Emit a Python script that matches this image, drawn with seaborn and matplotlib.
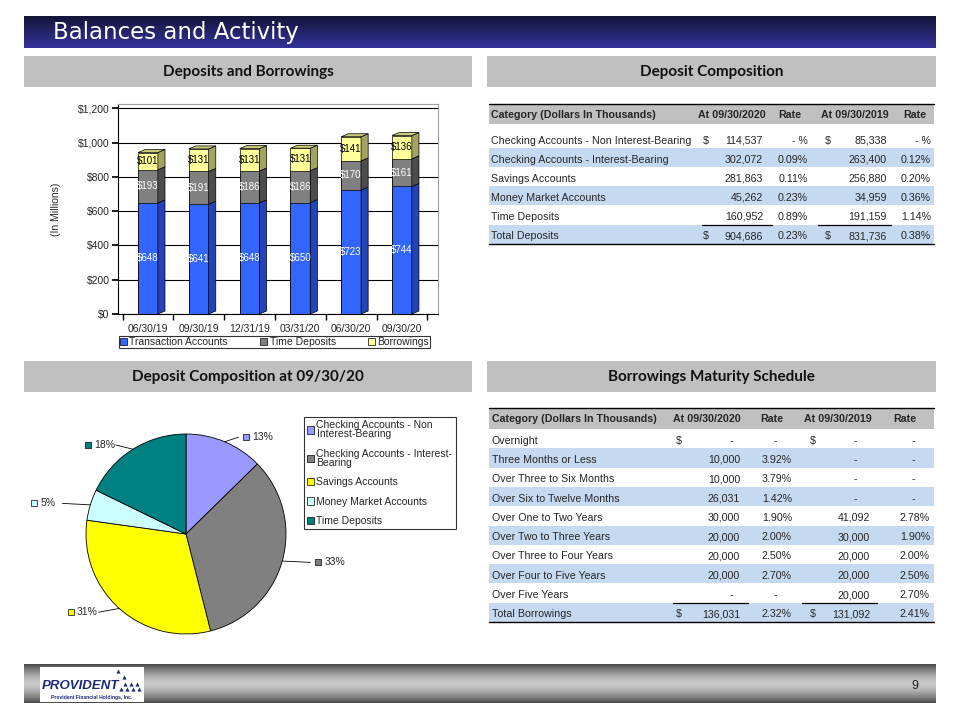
"""Balances and Activity slide: deposits, borrowings and deposit composition"""
import numpy as np
import pandas as pd
import matplotlib
matplotlib.use("Agg")
import matplotlib.pyplot as plt
from matplotlib.colors import LinearSegmentedColormap
from matplotlib.patches import Polygon, Rectangle, Patch
import seaborn as sns

# ---- data -----------------------------------------------------------------
quarters = ["06/30/19", "09/30/19", "12/31/19", "03/31/20", "06/30/20", "09/30/20"]
transaction_accounts = [648, 641, 648, 650, 723, 744]
time_deposits = [193, 191, 186, 186, 170, 161]
borrowings = [101, 131, 131, 131, 141, 136]
bar_series = ["Transaction Accounts", "Time Deposits", "Borrowings"]

deposit_categories = ["Checking Accounts - Non Interest-Bearing",
                      "Checking Accounts - Interest-Bearing",
                      "Savings Accounts", "Money Market Accounts", "Time Deposits"]
deposits_2020 = [114537, 302072, 281863, 45262, 160952]
dep_rate_2020 = [None, 0.09, 0.11, 0.23, 0.89]
deposits_2019 = [85338, 263400, 256880, 34959, 191159]
dep_rate_2019 = [None, 0.12, 0.20, 0.36, 1.14]
total_dep_rate_2020 = 0.23
total_dep_rate_2019 = 0.38

pie_legend_labels = ["Checking Accounts - Non\nInterest-Bearing",
                     "Checking Accounts - Interest-\nBearing",
                     "Savings Accounts", "Money Market Accounts", "Time Deposits"]

borrow_terms = ["Overnight", "Three Months or Less", "Over Three to Six Months",
                "Over Six to Twelve Months", "Over One to Two Years",
                "Over Two to Three Years", "Over Three to Four Years",
                "Over Four to Five Years", "Over Five Years"]
borrow_2020 = [0, 10000, 10000, 26031, 30000, 20000, 20000, 20000, 0]
bor_rate_2020 = [None, 3.92, 3.79, 1.42, 1.90, 2.00, 2.50, 2.70, None]
borrow_2019 = [0, 0, 0, 0, 41092, 30000, 20000, 20000, 20000]
bor_rate_2019 = [None, None, None, None, 2.78, 1.90, 2.00, 2.50, 2.70]
total_bor_rate_2020 = 2.32
total_bor_rate_2019 = 2.41

table_headers = ["Category (Dollars In Thousands)", "At 09/30/2020", "Rate",
                 "At 09/30/2019", "Rate"]

BAR_COLORS = ["#3366ff", "#808080", "#ffff99"]
SIDE_COLORS = ["#2443b8", "#4d4d4d", "#a3a364"]
PIE_COLORS = ["#9999ff", "#808080", "#ffff00", "#ccffff", "#008080"]
ROW_BLUE = "#c5d9f1"
HEADER_GRAY = "#c0c0c0"
TFONT = 7.7

sns.set_theme(style="white")
plt.rcParams["font.family"] = ["Liberation Sans", "DejaVu Sans"]

fig = plt.figure(figsize=(9.6, 7.2), dpi=100)


def px_axes(x0, y0, x1, y1):
    return fig.add_axes([x0 / 960, 1 - y1 / 720, (x1 - x0) / 960, (y1 - y0) / 720])


# ---- slide background layer (pixel coordinates) ---------------------------
bg = px_axes(0, 0, 960, 720)
bg.set_xlim(0, 960)
bg.set_ylim(720, 0)
bg.axis("off")

title_cmap = LinearSegmentedColormap.from_list("title", ["#141438", "#34349c"])
bg.imshow(np.linspace(0, 1, 64).reshape(-1, 1), extent=(24, 936, 48, 16),
          cmap=title_cmap, aspect="auto")
bg.text(53, 33, "Balances and Activity", color="white", fontsize=16.5,
        family="DejaVu Sans", va="center", ha="left")

foot = 1 - np.abs(np.linspace(-1, 1, 64)) ** 1.6
foot_cmap = LinearSegmentedColormap.from_list("foot", ["#4a4a4a", "#c8c8c8"])
bg.imshow(foot.reshape(-1, 1), extent=(24, 936, 703, 664), cmap=foot_cmap, aspect="auto")
bg.add_patch(Rectangle((40, 667), 104, 35, fc="white", ec="none"))
bg.text(42, 686, "PROVIDENT", color="#1e2a78", fontsize=9.5, weight="bold",
        style="italic", va="center", ha="left")
bg.text(92, 698, "Provident Financial Holdings, Inc.", color="#1e2a78",
        fontsize=3.6, weight="bold", va="center", ha="center")
bg.scatter([121, 127, 133, 139, 125, 131, 137, 124, 118],
           [689, 689, 689, 689, 684, 684, 684, 677, 671],
           marker="^", s=9, color="#1e2a78", linewidths=0)
bg.text(915, 686, "9", fontsize=9, va="center", ha="center", color="#222222")

section_headers = [(24, 56, 448, "Deposits and Borrowings"),
                   (487, 56, 449, "Deposit Composition"),
                   (24, 361, 448, "Deposit Composition at 09/30/20"),
                   (487, 361, 449, "Borrowings Maturity Schedule")]
for x0, y0, w, label in section_headers:
    bg.add_patch(Rectangle((x0, y0), w, 31, fc=HEADER_GRAY, ec="none"))
    bg.text(x0 + w / 2, y0 + 16, label, fontsize=11, family=["Lato", "DejaVu Sans"],
            weight="bold", ha="center", va="center", color="#111111")


def fmt_rate(r, pct_dash=False):
    if r is None:
        return "- %" if pct_dash else "-"
    return f"{r:.2f}%"


def draw_table(top, head_h, row_top, row_h, cols, rows, underline_row, underlines,
               head_centers):
    """cols: x of category, $1, value1 right, rate1 right, $2, value2 right, rate2 right"""
    left, right = 489, 934
    bg.add_patch(Rectangle((left, top), right - left, head_h, fc=HEADER_GRAY, ec="none"))
    bg.plot([left, right], [top, top], color="black", lw=1)
    hy = top + head_h / 2 + 4
    bg.text(cols[0], hy, table_headers[0], fontsize=TFONT, weight="bold", va="baseline")
    for cx, h in zip(head_centers, table_headers[1:]):
        bg.text(cx, hy, h, fontsize=TFONT, weight="bold", va="baseline", ha="center")
    for k, cells in enumerate(rows):
        y0 = row_top + k * row_h
        if k % 2 == 1:
            bg.add_patch(Rectangle((left, y0), right - left, row_h, fc=ROW_BLUE, ec="none"))
        ty = y0 + row_h * 0.55 + 4
        name, d1, v1, r1, d2, v2, r2 = cells
        bg.text(cols[0], ty, name, fontsize=TFONT, va="baseline")
        for x, txt, ha in [(cols[1], d1, "left"), (cols[2], v1, "right"),
                           (cols[3], r1, "right"), (cols[4], d2, "left"),
                           (cols[5], v2, "right"), (cols[6], r2, "right")]:
            if txt:
                bg.text(x, ty, txt, fontsize=TFONT, va="baseline", ha=ha)
    yl = row_top + (underline_row + 1) * row_h
    for x0, x1 in underlines:
        bg.plot([x0, x1], [yl, yl], color="black", lw=0.9)
    yb = row_top + len(rows) * row_h
    bg.plot([left, right], [yb, yb], color="black", lw=1)


# deposit composition table
dep_rows = []
for k, name in enumerate(deposit_categories):
    dollar = "$" if k == 0 else ""
    dep_rows.append([name, dollar, f"{deposits_2020[k]:,}", fmt_rate(dep_rate_2020[k], True),
                     dollar, f"{deposits_2019[k]:,}", fmt_rate(dep_rate_2019[k], True)])
dep_rows.append(["Total Deposits", "$", f"{sum(deposits_2020):,}", fmt_rate(total_dep_rate_2020),
                 "$", f"{sum(deposits_2019):,}", fmt_rate(total_dep_rate_2019)])
draw_table(104, 20, 129, 19.1, [491, 703, 763, 808, 825, 887, 931], dep_rows,
           len(deposit_categories) - 1, [(702, 772), (818, 891)], [732, 790, 855, 915])

# borrowings maturity table (dashes are set a little in from the right edge)
bor_rows = []
for k, name in enumerate(borrow_terms):
    dollar = "$" if k == 0 else ""
    v1 = f"{borrow_2020[k]:,}" if borrow_2020[k] else "-  "
    v2 = f"{borrow_2019[k]:,}" if borrow_2019[k] else "-    "
    r1 = fmt_rate(bor_rate_2020[k]) if bor_rate_2020[k] else "-     "
    r2 = fmt_rate(bor_rate_2019[k]) if bor_rate_2019[k] else "-     "
    bor_rows.append([name, dollar, v1, r1, dollar, v2, r2])
bor_rows.append(["Total Borrowings", "$", f"{sum(borrow_2020):,}", fmt_rate(total_bor_rate_2020),
                 "$", f"{sum(borrow_2019):,}", fmt_rate(total_bor_rate_2019)])
draw_table(408, 21, 429, 19.3, [492, 676, 740, 792, 810, 870, 930], bor_rows,
           len(borrow_terms) - 1, [(673, 748), (802, 877)], [707, 772, 838, 905])

# ---- stacked bar chart ----------------------------------------------------
ax = px_axes(118, 104, 438, 314)
lower = np.array(transaction_accounts)
middle = lower + np.array(time_deposits)
total = middle + np.array(borrowings)
width = 0.39
for heights, color in zip([total, middle, lower], BAR_COLORS[::-1]):
    sns.barplot(x=quarters, y=heights, color=color, saturation=1, width=width,
                edgecolor="black", linewidth=0.5, ax=ax, zorder=3)

YMAX = 1225
dx, dy = 0.14, 3 * YMAX / 210
segments = [(np.zeros(6), lower), (lower, middle), (middle, total)]
values = [transaction_accounts, time_deposits, borrowings]
for i in range(len(quarters)):
    xl, xr = i - width / 2, i + width / 2
    for s, (lo, hi) in enumerate(segments):
        ax.add_patch(Polygon([(xr, lo[i]), (xr + dx, lo[i] + dy), (xr + dx, hi[i] + dy),
                              (xr, hi[i])], closed=True, fc=SIDE_COLORS[s], ec="black",
                             lw=0.5, zorder=3))
        ax.text(i, (lo[i] + hi[i]) / 2, f"${values[s][i]}", fontsize=7,
                ha="center", va="center", color="black" if s == 2 else "white", zorder=4)
    top = total[i]
    ax.add_patch(Polygon([(xl, top), (xr, top), (xr + dx, top + dy), (xl + dx, top + dy)],
                         closed=True, fc="#c9c97a", ec="black", lw=0.5, zorder=3))

ax.set_xlim(-0.59, 5.71)
ax.set_ylim(0, YMAX)
ax.set_yticks(range(0, 1201, 200))
ax.set_yticklabels([f"${v:,}" for v in range(0, 1201, 200)], fontsize=7.5)
ax.set_xticks(range(len(quarters)))
ax.set_xticklabels(quarters, fontsize=7.5)
ax.set_xticks(np.arange(-0.5, 6, 1), minor=True)
ax.tick_params(axis="x", which="major", length=0, pad=7)
ax.tick_params(axis="x", which="minor", length=4, color="black", direction="out", bottom=True)
ax.tick_params(axis="y", length=4, color="black", direction="out", left=True, pad=2)
ax.yaxis.grid(True, color="black", lw=0.8)
ax.set_axisbelow(True)
for side in ["left", "bottom"]:
    ax.spines[side].set_color("black")
    ax.spines[side].set_linewidth(0.8)
for side in ["top", "right"]:
    ax.spines[side].set_color("#a0a0a0")
    ax.spines[side].set_linewidth(0.8)
ax.set_ylabel("(In Millions)", fontsize=7.5, labelpad=12)
ax.set_xlabel("")

bar_handles = [Patch(fc=c, ec="black", lw=0.5) for c in BAR_COLORS]
leg = ax.legend(bar_handles, bar_series, loc="upper left", mode="expand", ncol=3,
                bbox_to_anchor=(119 / 960, 1 - 347 / 720, 311 / 960, 11 / 720),
                bbox_transform=fig.transFigure, fontsize=7.5, frameon=True, fancybox=False,
                edgecolor="black", handlelength=0.7, handleheight=0.7, handletextpad=0.2,
                borderpad=0.1, borderaxespad=0, columnspacing=1.0)
leg.get_frame().set_linewidth(0.8)

# ---- pie chart ------------------------------------------------------------
axp = px_axes(85, 433, 287, 635)
wedges, _ = axp.pie(deposits_2020, colors=PIE_COLORS, startangle=90, counterclock=False,
                    wedgeprops=dict(edgecolor="black", linewidth=0.6))
axp.set_xlim(-1.01, 1.01)
axp.set_ylim(-1.01, 1.01)
axp.set_aspect("equal")
dep_total = sum(deposits_2020)
for w, v, c in zip(wedges, deposits_2020, PIE_COLORS):
    ang = np.deg2rad((w.theta1 + w.theta2) / 2)
    cs, sn = np.cos(ang), np.sin(ang)
    cx = 1.25 * cs + 0.22 * np.sign(cs)
    cy = 1.05 * sn
    end = cx - 0.18 if cs > 0 else cx + 0.18
    axp.plot([cs, end], [sn, cy], color="black", lw=0.6, clip_on=False)
    axp.scatter([cx - 0.1], [cy], marker="s", s=14, color=c, edgecolors="black",
                linewidths=0.5, clip_on=False, zorder=5)
    axp.text(cx - 0.04, cy, f"{v / dep_total * 100:.0f}%", fontsize=7.5,
             ha="left", va="center")

pie_handles = [Patch(fc=c, ec="black", lw=0.5) for c in PIE_COLORS]
leg2 = axp.legend(pie_handles, pie_legend_labels, loc="upper left",
                  bbox_to_anchor=(304 / 960, 1 - 417 / 720), bbox_transform=fig.transFigure,
                  fontsize=7.5, frameon=True, fancybox=False, edgecolor="black",
                  handlelength=0.7, handleheight=0.7, handletextpad=0.2, borderpad=0.3,
                  labelspacing=0.9, borderaxespad=0)
leg2.get_frame().set_linewidth(0.8)
for t in leg2.get_texts():
    t.set_linespacing(0.9)

fig.savefig("out.png", dpi=100)
plt.close(fig)
